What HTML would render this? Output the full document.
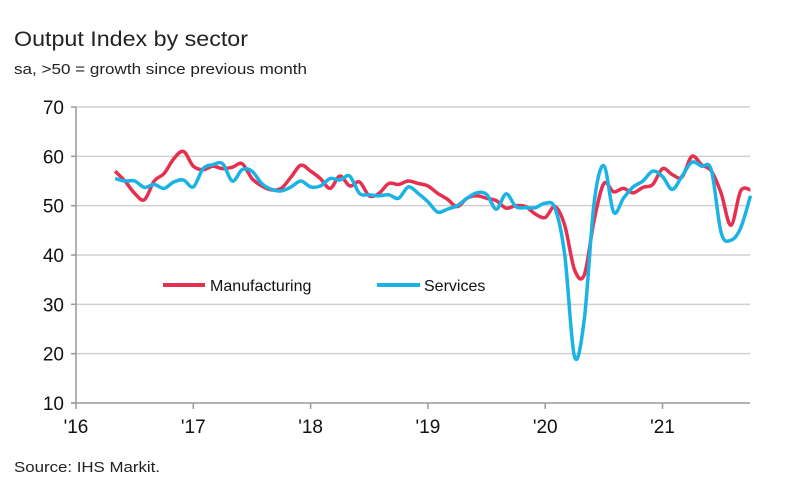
<!DOCTYPE html>
<html><head><meta charset="utf-8"><style>
body{margin:0;background:#fff;width:792px;height:498px;overflow:hidden;font-family:"Liberation Sans",sans-serif}
</style></head><body>
<svg width="792" height="498" xmlns="http://www.w3.org/2000/svg">
<text x="14" y="46" font-size="21" fill="#222" textLength="234" lengthAdjust="spacingAndGlyphs">Output Index by sector</text>
<text x="14" y="74" font-size="15" fill="#222" textLength="293" lengthAdjust="spacingAndGlyphs">sa, &gt;50 = growth since previous month</text>
<text x="14" y="472" font-size="15" fill="#222" textLength="146" lengthAdjust="spacingAndGlyphs">Source: IHS Markit.</text>
<g id="grid"></g><g id="axes"></g><g id="lines"></g>
<g>
<line x1="163" y1="285" x2="205" y2="285" stroke="#E5314F" stroke-width="4"/>
<text x="210" y="291" font-size="16" fill="#111">Manufacturing</text>
<line x1="377" y1="285" x2="420" y2="285" stroke="#1BB3E6" stroke-width="4"/>
<text x="424" y="291" font-size="16" fill="#111">Services</text>
</g>
</svg>
<script>
const yTicks=[10,20,30,40,50,60,70];
const xTickLabels=["'16","'17","'18","'19","'20","'21"];
const startMonth=4;
const manufacturing=[57,55,52.5,51.2,55,56.5,59.5,61,58,57.3,58,57.5,57.8,58.5,55.5,54,53.2,53.5,55.8,58.2,57,55.5,53.5,56,54,54.8,52,52.5,54.5,54.3,55,54.5,54,52.5,51.3,49.8,51.5,52,51.5,51,49.5,50,49.8,48.3,47.6,49.8,46,37,36,47,54.5,52.8,53.5,52.6,53.7,54.3,57.5,56.3,55.8,60,58.3,57,52.5,46,53,53.2];
const services=[55.5,55,55,53.7,54.3,53.5,54.8,55.2,53.8,57.5,58.3,58.5,55,57.3,57,54.5,53.3,53,53.8,55,53.8,54,55.5,55.2,56,52.5,52.2,52,52.2,51.5,53.8,52.5,50.8,48.7,49.3,50,51.5,52.6,52.3,49.3,52.4,49.8,49.6,49.6,50.5,49.5,40,19.4,27,50.5,58.1,48.7,51.5,53.8,55,57,55.9,53.3,56,58.8,58,57.2,44.5,43,45.5,52];
const NS="http://www.w3.org/2000/svg";
const X0=76,YW=117.3,Y10=403,Y70=107;
const xs=m=>X0+m*YW/12;
const ys=v=>Y10-(v-10)*(Y10-Y70)/60;
const grid=document.getElementById('grid'),axes=document.getElementById('axes'),lines=document.getElementById('lines');
function mk(t,a,p){const e=document.createElementNS(NS,t);for(const k in a)e.setAttribute(k,a[k]);p.appendChild(e);return e;}
yTicks.forEach(v=>{
 if(v>10){const g=mk('line',{x1:X0,x2:750,y1:ys(v),y2:ys(v),stroke:'#d0d0d0','stroke-width':1.5},grid);
 
 }
 const tk=mk('line',{x1:X0-5,x2:X0,y1:ys(v),y2:ys(v),stroke:'#999','stroke-width':1.5},axes);
 
 
 const t=mk('text',{x:X0-12,y:ys(v)+7,'text-anchor':'end','font-size':19,fill:'#111'},axes);t.textContent=v;
 
 
});
const ya=mk('line',{x1:X0,x2:X0,y1:Y70,y2:Y10,stroke:'#999','stroke-width':1.5},axes);


const xa=mk('line',{x1:X0-5,x2:750,y1:Y10,y2:Y10,stroke:'#999','stroke-width':1.5},axes);


xTickLabels.forEach((l,i)=>{
 const x=xs(i*12);
 const tk=mk('line',{x1:x,x2:x,y1:Y10,y2:Y10+6,stroke:'#999','stroke-width':1.5},axes);
 
 
 const t=mk('text',{x:x,y:Y10+30,'text-anchor':'middle','font-size':19,fill:'#111'},axes);t.textContent=l;
 
 
});
function path(vals){
 const p=vals.map((v,i)=>[xs(startMonth+i),ys(v)]);
 let d='M'+p[0][0]+','+p[0][1];
 for(let i=0;i<p.length-1;i++){
  const a=p[Math.max(0,i-1)],b=p[i],c=p[i+1],e=p[Math.min(p.length-1,i+2)];
  const c1=[b[0]+(c[0]-a[0])/6,b[1]+(c[1]-a[1])/6],c2=[c[0]-(e[0]-b[0])/6,c[1]-(e[1]-b[1])/6];
  d+=' C'+c1+' '+c2+' '+c;
 }
 return d;
}
const m=mk('path',{d:path(manufacturing),fill:'none',stroke:'#E5314F','stroke-width':3.5,'stroke-linejoin':'round'},lines);


const s=mk('path',{d:path(services),fill:'none',stroke:'#1BB3E6','stroke-width':3.5,'stroke-linejoin':'round'},lines);


</script>
</body></html>
